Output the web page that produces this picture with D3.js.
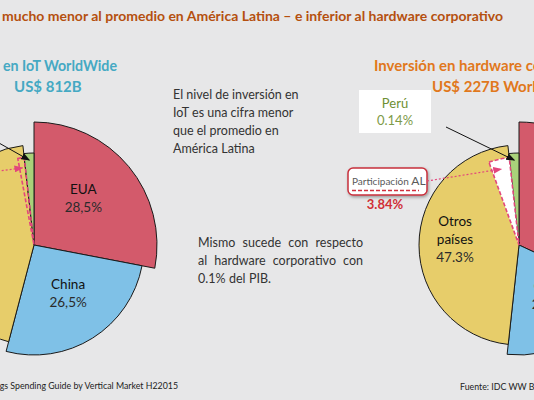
<!DOCTYPE html>
<html lang="es">
<head>
<meta charset="UTF-8">
<title>Inversión en IoT vs hardware corporativo</title>
<script src="https://d3js.org/d3.v7.min.js"></script>
<style>
  body { margin: 0; background: #e7e7e8; }
  svg { display: block; font-family: Lato, "Open Sans", sans-serif; }
</style>
</head>
<body>
<svg id="chart" width="534" height="400"></svg>
<script>
// Datos de los dos gráficos (porcentajes)
var sliceNames = ["EUA", "China", "Otros países", "Perú"];
var iotShares = [28.5, 26.5, 44.9, 0.1];     // gasto mundial en IoT
var hwShares = [32.5, 20.1, 47.3, 0.14];     // gasto mundial en hardware corporativo
var iotShareAL = 1.2;                        // participación de América Latina
var hwShareAL = 3.84;

var notaIot = ["El nivel de inversión en", "IoT es una cifra menor", "que el promedio en", "América Latina"];
var notaHw = ["Mismo sucede con respecto", "al hardware corporativo con", "0.1% del PIB."];

// Estilo de las porciones
var sliceColors = ["#d35a6b", "#7fc1e7", "#e7cd6a", "#a9d27a"];
var sliceRadius = [123, 110, 100, 92];
var minVisible = 1.8;   // las porciones muy pequeñas se dibujan con un ancho mínimo

var svg = d3.select("#chart");
svg.append("rect").attr("width", 534).attr("height", 400).attr("fill", "#e7e7e8");

var defs = svg.append("defs");
function marker(id, color) {
    defs.append("marker")
        .attr("id", id)
        .attr("markerUnits", "userSpaceOnUse")
        .attr("markerWidth", 9).attr("markerHeight", 7)
        .attr("refX", 8).attr("refY", 3.5)
        .attr("orient", "auto")
        .append("path").attr("d", "M0,0 L9,3.5 L0,7 z").attr("fill", color);
}
marker("arrowBlack", "#111");
marker("arrowPink", "#e2467c");

var shadow = defs.append("filter").attr("id", "shadow")
    .attr("x", "-20%").attr("y", "-30%").attr("width", "140%").attr("height", "160%");
shadow.append("feDropShadow").attr("dx", 1).attr("dy", 1.5)
    .attr("stdDeviation", 1.5).attr("flood-opacity", 0.35);

function pointAt(cx, cy, angle, r) {
    return [cx + r * Math.sin(angle), cy - r * Math.cos(angle)];
}

function drawPie(cx, cy, shares, shareAL, fmt, alFill) {
    var data = sliceNames.map(function(n, i) { return { name: n, value: shares[i], i: i }; });
    var shown = function(d) { return Math.max(d.value, minVisible); };
    var total = d3.sum(data, shown);
    var arcs = d3.pie().sort(null).value(shown)(data);

    var g = svg.append("g").attr("transform", "translate(" + cx + "," + cy + ")");

    g.selectAll(".slice")
        .data(arcs)
        .enter().append("path")
        .attr("class", "slice")
        .attr("d", function(d) { return d3.arc().innerRadius(0).outerRadius(sliceRadius[d.data.i])(d); })
        .attr("fill", function(d) { return sliceColors[d.data.i]; })
        .attr("stroke", "#1a1a1a")
        .attr("stroke-width", 1)
        .attr("stroke-linejoin", "miter");

    // porción de América Latina dentro de "Otros países"
    var otros = arcs[2];
    var alArc = { startAngle: otros.endAngle - shareAL / total * 2 * Math.PI, endAngle: otros.endAngle };
    g.append("path")
        .attr("d", d3.arc().innerRadius(0).outerRadius(88)(alArc))
        .attr("fill", alFill)
        .attr("stroke", "#e2467c")
        .attr("stroke-width", 1.6)
        .attr("stroke-dasharray", "4,2");

    // etiquetas dentro de las porciones grandes
    var labelArc = d3.arc().innerRadius(64).outerRadius(64);
    arcs.slice(0, 3).forEach(function(d) {
        var c = labelArc.centroid(d);
        var lines = d.data.name.split(" ").concat([fmt(d.data.value)]);
        var t = g.append("text")
            .attr("text-anchor", "middle")
            .attr("font-size", "13.5px")
            .attr("fill", "#1e1e1e");
        lines.forEach(function(l, k) {
            t.append("tspan")
                .attr("x", c[0])
                .attr("y", c[1] - 6 + (k - (lines.length - 1) / 2) * 18 + 5)
                .attr("fill", k === lines.length - 1 ? "#2b2b2b" : "#111")
                .text(l);
        });
    });

    return {
        peru: pointAt(cx, cy, (arcs[3].startAngle + arcs[3].endAngle) / 2, 85),
        al: pointAt(cx, cy, (alArc.startAngle + alArc.endAngle) / 2, 78)
    };
}

var left = drawPie(34, 245, iotShares, iotShareAL,
    function(v) { return v.toFixed(1).replace(".", ",") + "%"; }, "none");
var right = drawPie(519, 245, hwShares, hwShareAL,
    function(v) { return v.toFixed(1) + "%"; }, "#ffffff");

// Título
svg.append("text")
    .attr("x", 2).attr("y", 21)
    .attr("font-size", "14px").attr("font-weight", "bold")
    .attr("fill", "#b5500f")
    .attr("textLength", 501).attr("lengthAdjust", "spacingAndGlyphs")
    .text("mucho menor al promedio en América Latina – e inferior al hardware corporativo");

// Subtítulos de los gráficos
svg.append("text")
    .attr("x", 3).attr("y", 71)
    .attr("font-size", "15px").attr("font-weight", "bold").attr("fill", "#45a9c3")
    .attr("textLength", 114).attr("lengthAdjust", "spacingAndGlyphs")
    .text("en IoT WorldWide");
svg.append("text")
    .attr("x", 14).attr("y", 92)
    .attr("font-size", "15px").attr("font-weight", "bold").attr("fill", "#45a9c3")
    .text("US$ 812B");
svg.append("text")
    .attr("x", 374).attr("y", 71)
    .attr("font-size", "15px").attr("font-weight", "bold").attr("fill", "#e1781c")
    .text("Inversión en hardware corporativo");
svg.append("text")
    .attr("x", 432).attr("y", 92)
    .attr("font-size", "15px").attr("font-weight", "bold").attr("fill", "#e1781c")
    .text("US$ 227B WorldWide");

// Notas de texto
var nota1 = svg.append("text").attr("font-size", "12.5px").attr("fill", "#333");
notaIot.forEach(function(l, k) {
    nota1.append("tspan").attr("x", 173).attr("y", 99 + k * 18).text(l);
});

function justified(lines, x0, width, y0, step) {
    lines.forEach(function(line, k) {
        var t = svg.append("text").attr("font-size", "12.5px").attr("fill", "#333")
            .attr("y", y0 + k * step);
        var words = line.split(" ");
        var spans = words.map(function(w) { return t.append("tspan").text(w); });
        var widths = spans.map(function(s) { return s.node().getComputedTextLength(); });
        var last = k === lines.length - 1;
        var gap = last ? 3.5 : (width - d3.sum(widths)) / (words.length - 1);
        var x = x0;
        spans.forEach(function(s, j) {
            s.attr("x", x);
            x += widths[j] + gap;
        });
    });
}
justified(notaHw, 198, 165, 247, 18);

// Fuentes
svg.append("text")
    .attr("x", 178).attr("y", 389).attr("text-anchor", "end")
    .attr("font-size", "8.8px").attr("fill", "#222")
    .text("Fuente: IDC WW Internet of Things Spending Guide by Vertical Market H22015");
svg.append("text")
    .attr("x", 460).attr("y", 390)
    .attr("font-size", "8.8px").attr("fill", "#222")
    .text("Fuente: IDC WW Black Book");

// Anotación Perú
svg.append("rect").attr("x", 359).attr("y", 90).attr("width", 72).attr("height", 43).attr("fill", "#fff");
svg.append("text").attr("x", 395).attr("y", 108).attr("text-anchor", "middle")
    .attr("font-size", "13px").attr("fill", "#6f8f33").text("Perú");
svg.append("text").attr("x", 395).attr("y", 125).attr("text-anchor", "middle")
    .attr("font-size", "13px").attr("fill", "#7d9a48").text(hwShares[3] + "%");
svg.append("line")
    .attr("x1", 446).attr("y1", 127).attr("x2", right.peru[0]).attr("y2", right.peru[1])
    .attr("stroke", "#111").attr("stroke-width", 1).attr("marker-end", "url(#arrowBlack)");
svg.append("line")
    .attr("x1", -40).attr("y1", 121).attr("x2", left.peru[0]).attr("y2", left.peru[1])
    .attr("stroke", "#111").attr("stroke-width", 1).attr("marker-end", "url(#arrowBlack)");

// Anotación participación AL
svg.append("rect")
    .attr("x", 348).attr("y", 168).attr("width", 79).attr("height", 27).attr("rx", 5)
    .attr("fill", "#fff").attr("stroke", "#c8303d").attr("stroke-width", 1.5)
    .attr("filter", "url(#shadow)");
var pa = svg.append("text").attr("x", 352).attr("y", 185).attr("fill", "#5a5a5a");
pa.append("tspan").attr("font-size", "10px").text("Participación ");
pa.append("tspan").attr("font-size", "12px").text("AL");
svg.append("line")
    .attr("x1", 352).attr("y1", 190.5).attr("x2", 419).attr("y2", 190.5)
    .attr("stroke", "#d0303d").attr("stroke-width", 1.6).attr("stroke-dasharray", "4,2");
svg.append("text").attr("x", 385).attr("y", 209).attr("text-anchor", "middle")
    .attr("font-size", "13px").attr("font-weight", "bold").attr("fill", "#d12f36")
    .text(hwShareAL + "%");
svg.append("line")
    .attr("x1", 427).attr("y1", 181).attr("x2", right.al[0]).attr("y2", right.al[1])
    .attr("stroke", "#e2467c").attr("stroke-width", 1.2).attr("stroke-dasharray", "2,2")
    .attr("marker-end", "url(#arrowPink)");
svg.append("line")
    .attr("x1", -30).attr("y1", 175).attr("x2", left.al[0]).attr("y2", left.al[1])
    .attr("stroke", "#e2467c").attr("stroke-width", 1.2).attr("stroke-dasharray", "2,2")
    .attr("marker-end", "url(#arrowPink)");
</script>
</body>
</html>
